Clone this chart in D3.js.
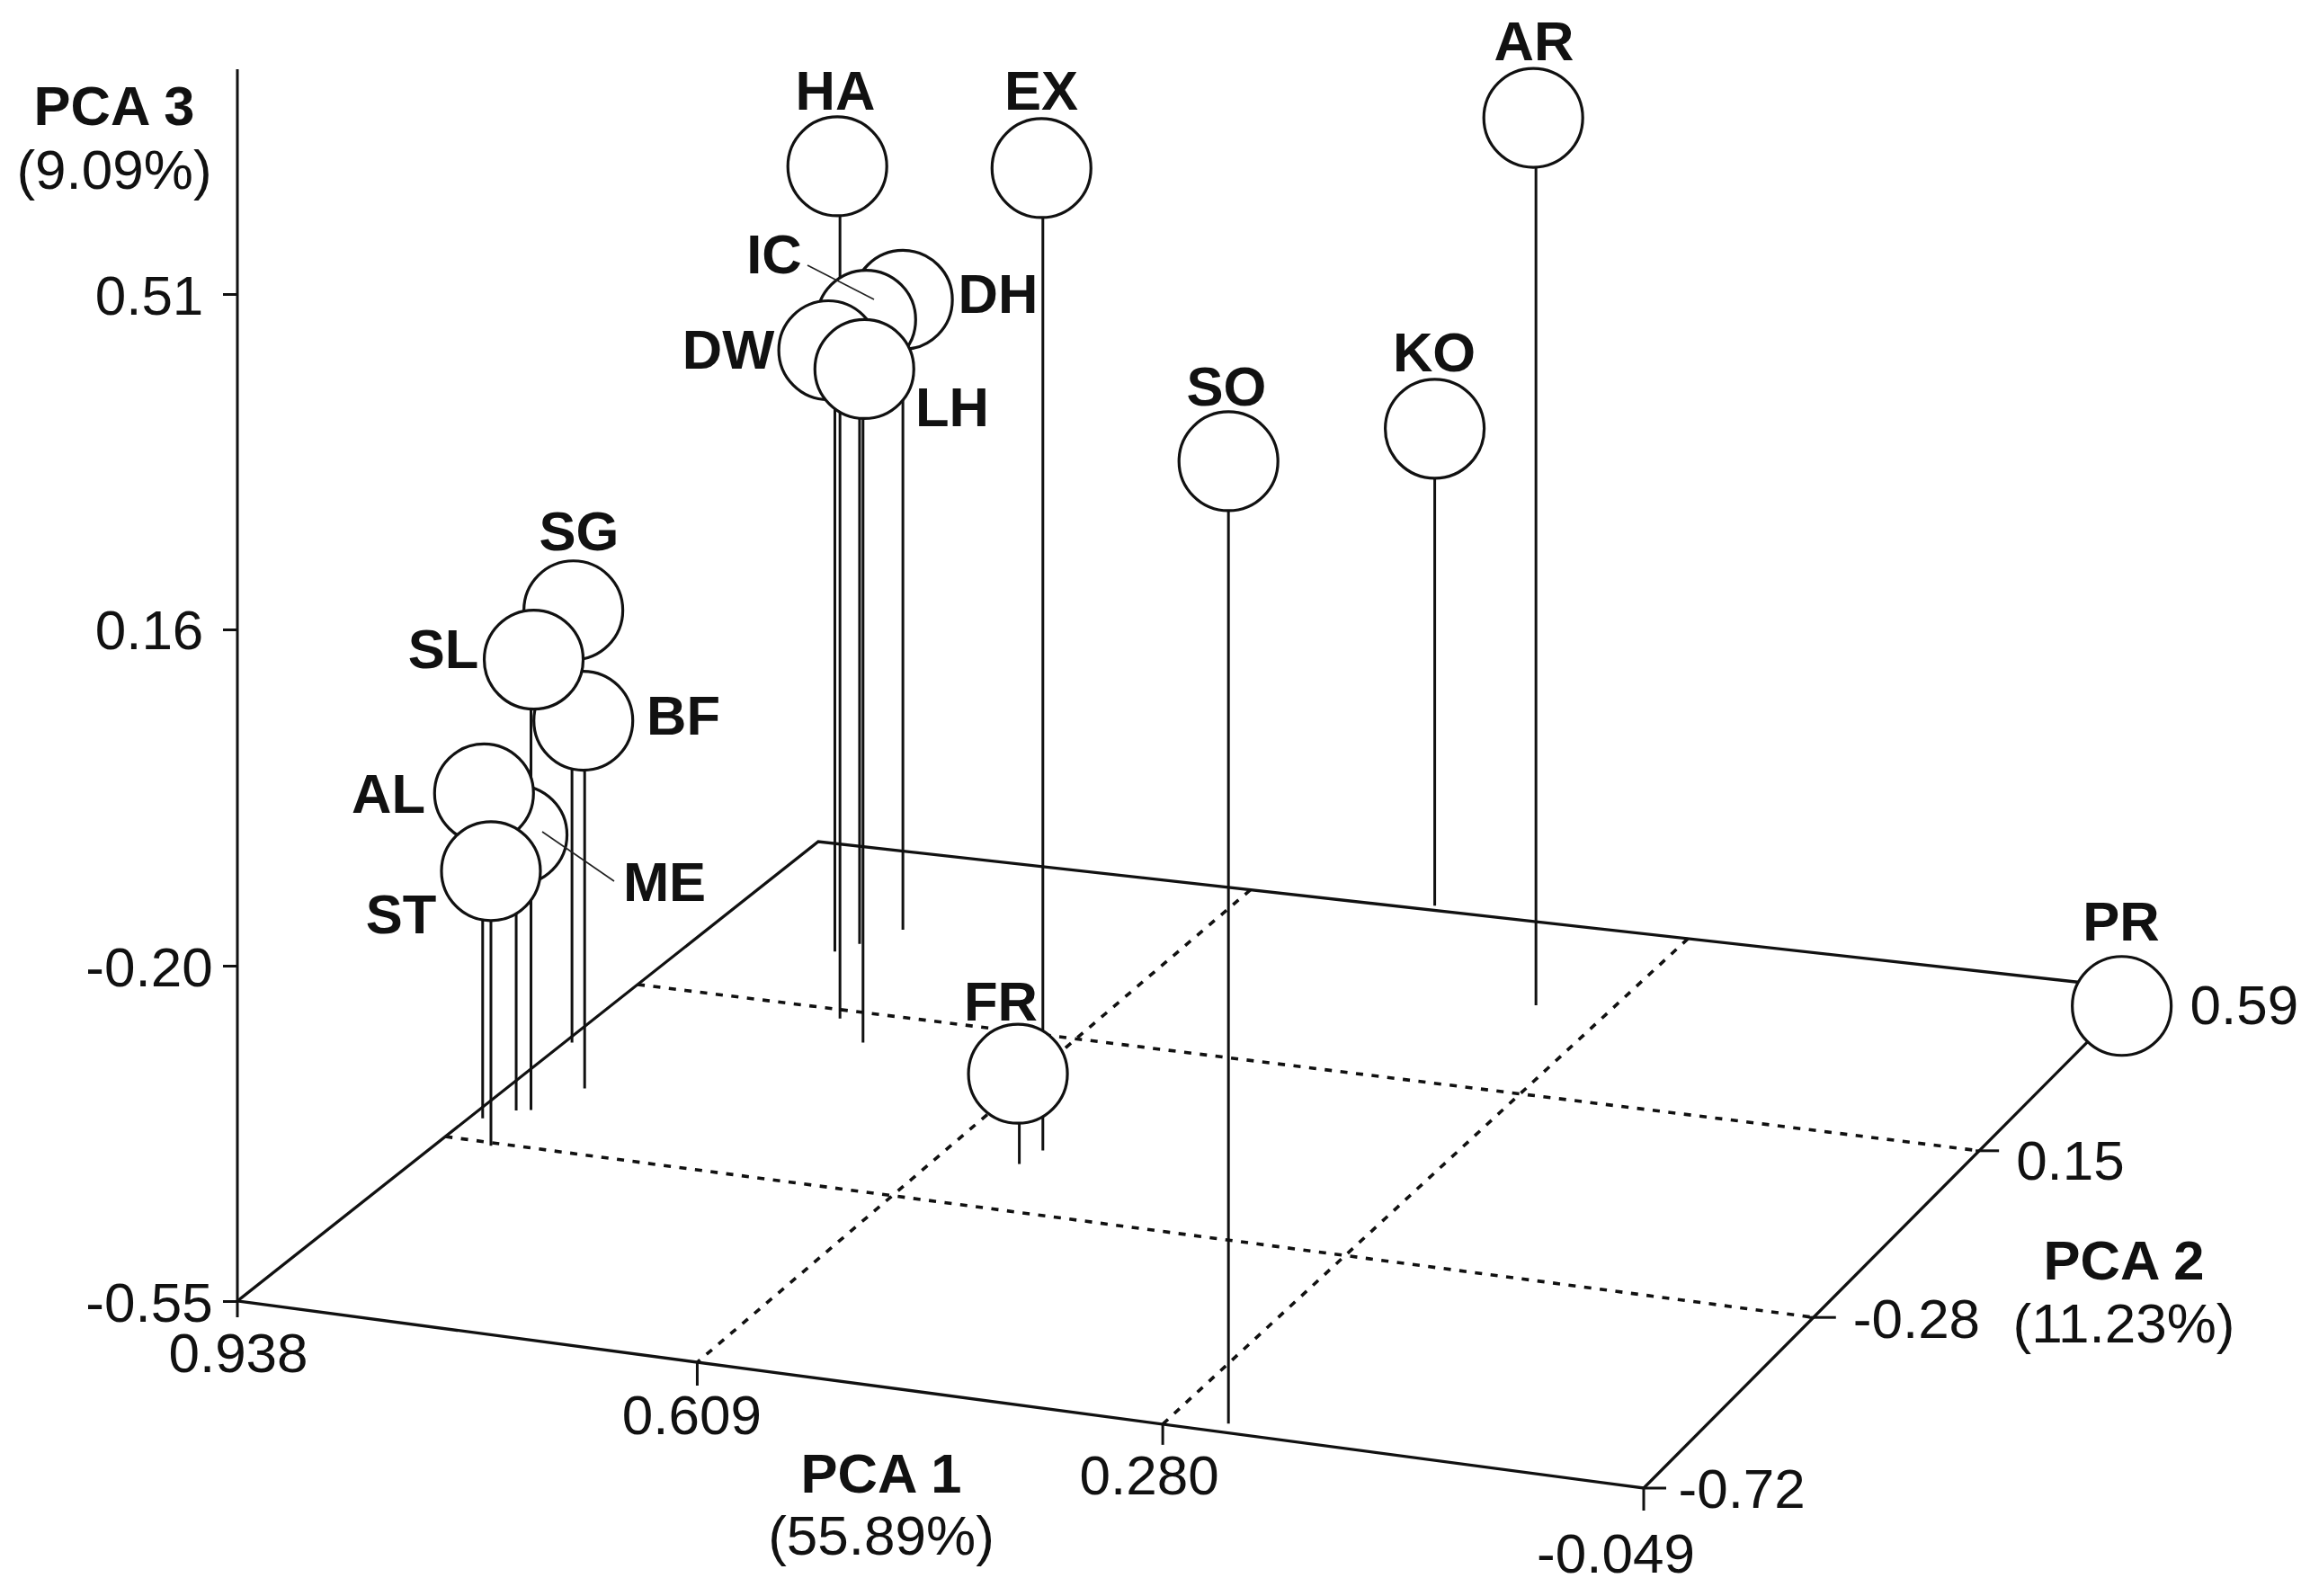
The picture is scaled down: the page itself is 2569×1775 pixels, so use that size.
<!DOCTYPE html>
<html>
<head>
<meta charset="utf-8">
<style>
    html, body { margin: 0; padding: 0; background: #fff; }
    text { font-family: "Liberation Sans", Arial, sans-serif; fill: #111; }
    .tick text, .tickLabel, .subTitle { font-size: 62px; }
    .pointLabel, .axisTitle { font-size: 61.5px; font-weight: bold; }
    .floor { stroke: #111; stroke-width: 3.3px; fill: none; }
    .stem, .tickMark { stroke: #111; stroke-width: 3px; fill: none; }
    .gridLine { stroke: #111; stroke-width: 3.6px; stroke-dasharray: 8 9.5; fill: none; }
    .leader { stroke: #222; stroke-width: 1.6px; }
    .ball { fill: #fff; stroke: #111; stroke-width: 3.2px; }
</style>
<script src="https://cdn.jsdelivr.net/npm/d3@7/dist/d3.min.js"></script>
</head>
<body>
<script>
// Sample names, back to front so the overlaps come out right
var names = ["DH", "IC", "DW", "LH", "HA", "EX", "SG", "BF", "SL", "ME", "AL", "ST", "SO", "KO", "AR", "FR", "PR"];
var pca1 = [0.809, 0.826, 0.836, 0.745, 0.779, 0.547, 0.933, 0.888, 0.905, 0.914, 0.929, 0.902, 0.241, 0.474, 0.333, 0.552, -0.048];
var pca2 = [0.382, 0.331, 0.303, 0.079, 0.131, -0.127, -0.011, -0.120, -0.190, -0.196, -0.226, -0.290, -0.699, 0.602, 0.379, -0.167, 0.544];
var pca3 = [0.113, 0.107, 0.083, 0.159, 0.347, 0.484, -0.095, -0.163, -0.076, -0.260, -0.208, -0.261, 0.463, -0.048, 0.384, -0.455, -0.550];
// The balls do not sit exactly over their stems in the figure
var pca1Ball = [0.809, 0.821, 0.841, 0.744, 0.781, 0.548, 0.932, 0.889, 0.903, 0.913, 0.928, 0.902, 0.241, 0.474, 0.335, 0.553, -0.048];
var hasStem = [true, true, true, true, true, true, true, true, true, true, true, true, true, true, true, true, false];

// Axis ticks
var pca1Ticks = [0.938, 0.609, 0.280, -0.049];
var pca2Ticks = [-0.72, -0.283, 0.153, 0.59];
var pca3Ticks = [-0.55, -0.197, 0.157, 0.51];
var pca1TickLabels = ["0.938", "0.609", "0.280", "-0.049"];
var pca2TickLabels = ["-0.72", "-0.28", "0.15", "0.59"];
var pca3TickLabels = ["-0.55", "-0.20", "0.16", "0.51"];

window.onload = drawChart();

function drawChart() {

    var width = 2569,
        height = 1775;

    var svg = d3.select("body")
        .append("svg")
        .attr("width", width)
        .attr("height", height)
        .style("display", "block");

    // Corners of the floor, the figure is drawn in perspective
    var frontLeft = [264, 1447],
        frontRight = [1828, 1655],
        backLeft = [910, 936],
        backRight = [2380, 1100];

    // Floor position along each edge, PCA 2 spacing differs between left and right
    var uScale = d3.scaleLinear().domain(pca1Ticks).range([0, 0.327, 0.658, 1]);
    var vLeft = d3.scaleLinear().domain(pca2Ticks).range([0, 0.358, 0.689, 1]);
    var vRight = d3.scaleLinear().domain(pca2Ticks).range([0, 0.342, 0.676, 1]);
    var yScale = d3.scaleLinear().domain([-0.55, 0.51]).range([1447, 327]);

    // Bilinear mapping from PCA 1 / PCA 2 onto the floor
    function floor(p1, p2) {
        var u = uScale(p1),
            v = vLeft(p2) * (1 - u) + vRight(p2) * u;
        var fx = frontLeft[0] + u * (frontRight[0] - frontLeft[0]),
            fy = frontLeft[1] + u * (frontRight[1] - frontLeft[1]),
            bx = backLeft[0] + u * (backRight[0] - backLeft[0]),
            by = backLeft[1] + u * (backRight[1] - backLeft[1]);
        return [fx + v * (bx - fx), fy + v * (by - fy)];
    }

    var line = d3.line();

    // Floor outline
    svg.append("path")
        .attr("class", "floor")
        .attr("d", line([backRight, backLeft, frontLeft, frontRight, backRight]));

    // Dotted grid at the two inner ticks of each floor axis
    svg.selectAll(".gridP1")
        .data(pca1Ticks.slice(1, 3))
        .enter()
        .append("path")
        .attr("class", "gridLine")
        .attr("d", function(d){
            return line([floor(d, 0.59), floor(d, -0.72)]);
        });

    svg.selectAll(".gridP2")
        .data(pca2Ticks.slice(1, 3))
        .enter()
        .append("path")
        .attr("class", "gridLine")
        .attr("d", function(d){
            return line([floor(0.938, d), floor(-0.049, d)]);
        });

    // Vertical axis
    var yAxis = d3.axisLeft(yScale)
        .tickValues(pca3Ticks)
        .tickSize(16)
        .tickFormat(function(d, i){ return pca3TickLabels[i]; });

    var yAxisGroup = svg.append("g")
        .attr("transform", "translate(264,0)")
        .call(yAxis);

    yAxisGroup.select(".domain").remove();
    yAxisGroup.selectAll(".tick line").attr("stroke", "#111").attr("stroke-width", 3);
    yAxisGroup.selectAll(".tick text")
        .attr("x", -98)
        .attr("dy", 22)
        .attr("text-anchor", "middle")
        .attr("fill", "#111");

    svg.append("line")
        .attr("class", "tickMark")
        .attr("x1", 264).attr("x2", 264)
        .attr("y1", 77).attr("y2", 1465);

    // PCA 1 ticks hang down from the front edge
    var p1LabelDx = [1, -6, -15, -31],
        p1LabelDy = [79, 80, 78, 94],
        p1TickLen = [0, 26, 23, 25];

    pca1Ticks.forEach(function(d, i){
        var p = floor(d, -0.72);
        svg.append("line")
            .attr("class", "tickMark")
            .attr("x1", p[0]).attr("x2", p[0])
            .attr("y1", p[1]).attr("y2", p[1] + p1TickLen[i]);
        svg.append("text")
            .attr("class", "tickLabel")
            .attr("text-anchor", "middle")
            .attr("x", p[0] + p1LabelDx[i])
            .attr("y", p[1] + p1LabelDy[i])
            .text(pca1TickLabels[i]);
    });

    // PCA 2 ticks point right from the right edge
    var p2LabelDx = [38.5, 44, 41, 55.5],
        p2LabelDy = [22, 23, 32, 39],
        p2TickStart = [0, -5, -4, 0],
        p2TickLen = [25, 25, 22, 0];

    pca2Ticks.forEach(function(d, i){
        var p = floor(-0.049, d);
        svg.append("line")
            .attr("class", "tickMark")
            .attr("x1", p[0] + p2TickStart[i]).attr("x2", p[0] + p2TickLen[i])
            .attr("y1", p[1]).attr("y2", p[1]);
        svg.append("text")
            .attr("class", "tickLabel")
            .attr("x", p[0] + p2LabelDx[i])
            .attr("y", p[1] + p2LabelDy[i])
            .text(pca2TickLabels[i]);
    });

    // Stems first, all balls sit on top of them
    var order = d3.range(names.length);

    svg.selectAll(".stem")
        .data(order.filter(function(i){ return hasStem[i]; }))
        .enter()
        .append("line")
        .attr("class", "stem")
        .attr("x1", function(i){ return floor(pca1[i], pca2[i])[0]; })
        .attr("x2", function(i){ return floor(pca1[i], pca2[i])[0]; })
        .attr("y1", function(i){ return floor(pca1[i], pca2[i])[1]; })
        .attr("y2", function(i){ return floor(pca1[i], pca2[i])[1] - (yScale(-0.55) - yScale(pca3[i])); });

    svg.selectAll(".ball")
        .data(order)
        .enter()
        .append("circle")
        .attr("class", "ball")
        .attr("r", 55)
        .attr("cx", function(i){ return floor(pca1Ball[i], pca2[i])[0]; })
        .attr("cy", function(i){ return floor(pca1[i], pca2[i])[1] - (yScale(-0.55) - yScale(pca3[i])); });

    // Leader lines for the two labels set away from their balls
    var leaders = [[[898, 295], [972, 333]], [[603, 925], [683, 980]]];
    svg.selectAll(".leader")
        .data(leaders)
        .enter()
        .append("path")
        .attr("class", "leader")
        .attr("d", line);

    // Sample labels, placed by hand around the balls like in the figure
    var labelAt = {
        HA: [929, 122], EX: [1158, 122], IC: [861, 304], DH: [1110, 348],
        DW: [810, 410], LH: [1059, 474], SG: [644, 612], SL: [493, 743],
        BF: [760, 817], AL: [432, 904], ST: [446, 1038], ME: [739, 1002],
        AR: [1706, 67], KO: [1595, 413], SO: [1364, 451], FR: [1113, 1135],
        PR: [2359, 1046]
    };

    svg.selectAll(".pointLabel")
        .data(names)
        .enter()
        .append("text")
        .attr("class", "pointLabel")
        .attr("text-anchor", "middle")
        .attr("x", function(d){ return labelAt[d][0]; })
        .attr("y", function(d){ return labelAt[d][1]; })
        .text(function(d){ return d; });

    // Axis titles
    var titles = [
        ["PCA 3", "(9.09%)", 127, 139, 210],
        ["PCA 1", "(55.89%)", 980, 1660, 1729],
        ["PCA 2", "(11.23%)", 2362, 1423, 1493]
    ];

    titles.forEach(function(t){
        svg.append("text")
            .attr("class", "axisTitle")
            .attr("text-anchor", "middle")
            .attr("x", t[2])
            .attr("y", t[3])
            .text(t[0]);
        svg.append("text")
            .attr("class", "subTitle")
            .attr("text-anchor", "middle")
            .attr("x", t[2])
            .attr("y", t[4])
            .text(t[1]);
    });
}
</script>
</body>
</html>
